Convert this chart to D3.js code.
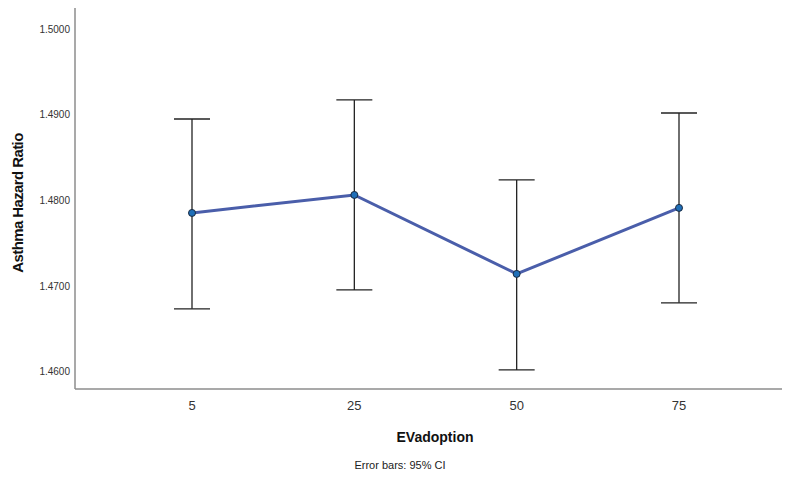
<!DOCTYPE html>
<head>
<meta charset='utf-8'>
<style>
  body { margin: 0; background: #fff; font-family: Arial, 'Liberation Sans', sans-serif; }
</style>
</head>
<body>
<div id='vis'></div>
<script src='https://d3js.org/d3.v7.min.js'></script>
<script>
  // data
  const categories = ['5', '25', '50', '75']
  const means = [1.47854, 1.48064, 1.47143, 1.47913]
  const lower = [1.46735, 1.46956, 1.46023, 1.46805]
  const upper = [1.48950, 1.49172, 1.48239, 1.49020]
  const yTicks = [1.46, 1.47, 1.48, 1.49, 1.50]

  const W = 786, H = 478
  const svg = d3.select('#vis').append('svg')
    .attr('width', W).attr('height', H)

  const x = d3.scalePoint().domain(categories).range([192, 679])
  const y = d3.scaleLinear().domain([1.458, 1.50245]).range([389, 8])

  // axes lines
  svg.append('line').attr('x1', 75).attr('x2', 75).attr('y1', 8).attr('y2', 389)
    .attr('stroke', '#8c8c8c').attr('stroke-width', 1.5)
  svg.append('line').attr('x1', 75).attr('x2', 782).attr('y1', 389).attr('y2', 389)
    .attr('stroke', '#8c8c8c').attr('stroke-width', 1.5)

  // y tick labels
  svg.append('g').selectAll('text').data(yTicks).join('text')
    .attr('x', 70).attr('y', d => y(d)).attr('dy', '0.35em')
    .attr('text-anchor', 'end').attr('font-size', 10).attr('fill', '#333')
    .text(d => d3.format('.4f')(d))

  // x tick labels
  svg.append('g').selectAll('text').data(categories).join('text')
    .attr('x', d => x(d)).attr('y', 410)
    .attr('text-anchor', 'middle').attr('font-size', 13).attr('fill', '#333')
    .text(d => d)

  // titles
  svg.append('text').attr('transform', 'translate(23,203) rotate(-90)')
    .attr('text-anchor', 'middle').attr('font-size', 15).attr('font-weight', 'bold')
    .attr('fill', '#111').attr('letter-spacing', -0.6).text('Asthma Hazard Ratio')
  svg.append('text').attr('x', 435).attr('y', 442)
    .attr('text-anchor', 'middle').attr('font-size', 14).attr('font-weight', 'bold')
    .attr('fill', '#111').text('EVadoption')
  svg.append('text').attr('x', 400).attr('y', 469)
    .attr('text-anchor', 'middle').attr('font-size', 11).attr('fill', '#222')
    .text('Error bars: 95% CI')

  const rows = categories.map((c, i) => ({c, m: means[i], lo: lower[i], hi: upper[i]}))

  // error bars
  const eb = svg.append('g').attr('stroke', '#222').attr('stroke-width', 1.3)
  eb.selectAll('.stem').data(rows).join('line')
    .attr('x1', d => x(d.c)).attr('x2', d => x(d.c))
    .attr('y1', d => y(d.lo)).attr('y2', d => y(d.hi))
  eb.selectAll('.capHi').data(rows).join('line')
    .attr('x1', d => x(d.c) - 18).attr('x2', d => x(d.c) + 18)
    .attr('y1', d => y(d.hi)).attr('y2', d => y(d.hi))
  eb.selectAll('.capLo').data(rows).join('line')
    .attr('x1', d => x(d.c) - 18).attr('x2', d => x(d.c) + 18)
    .attr('y1', d => y(d.lo)).attr('y2', d => y(d.lo))

  // mean line
  const line = d3.line().x(d => x(d.c)).y(d => y(d.m))
  svg.append('path').datum(rows).attr('d', line)
    .attr('fill', 'none').attr('stroke', '#4a5eaa').attr('stroke-width', 3)

  svg.append('g').selectAll('circle').data(rows).join('circle')
    .attr('cx', d => x(d.c)).attr('cy', d => y(d.m)).attr('r', 3.5)
    .attr('fill', '#1f6fb8').attr('stroke', '#1a2a40').attr('stroke-width', 1)
</script>
</body>
